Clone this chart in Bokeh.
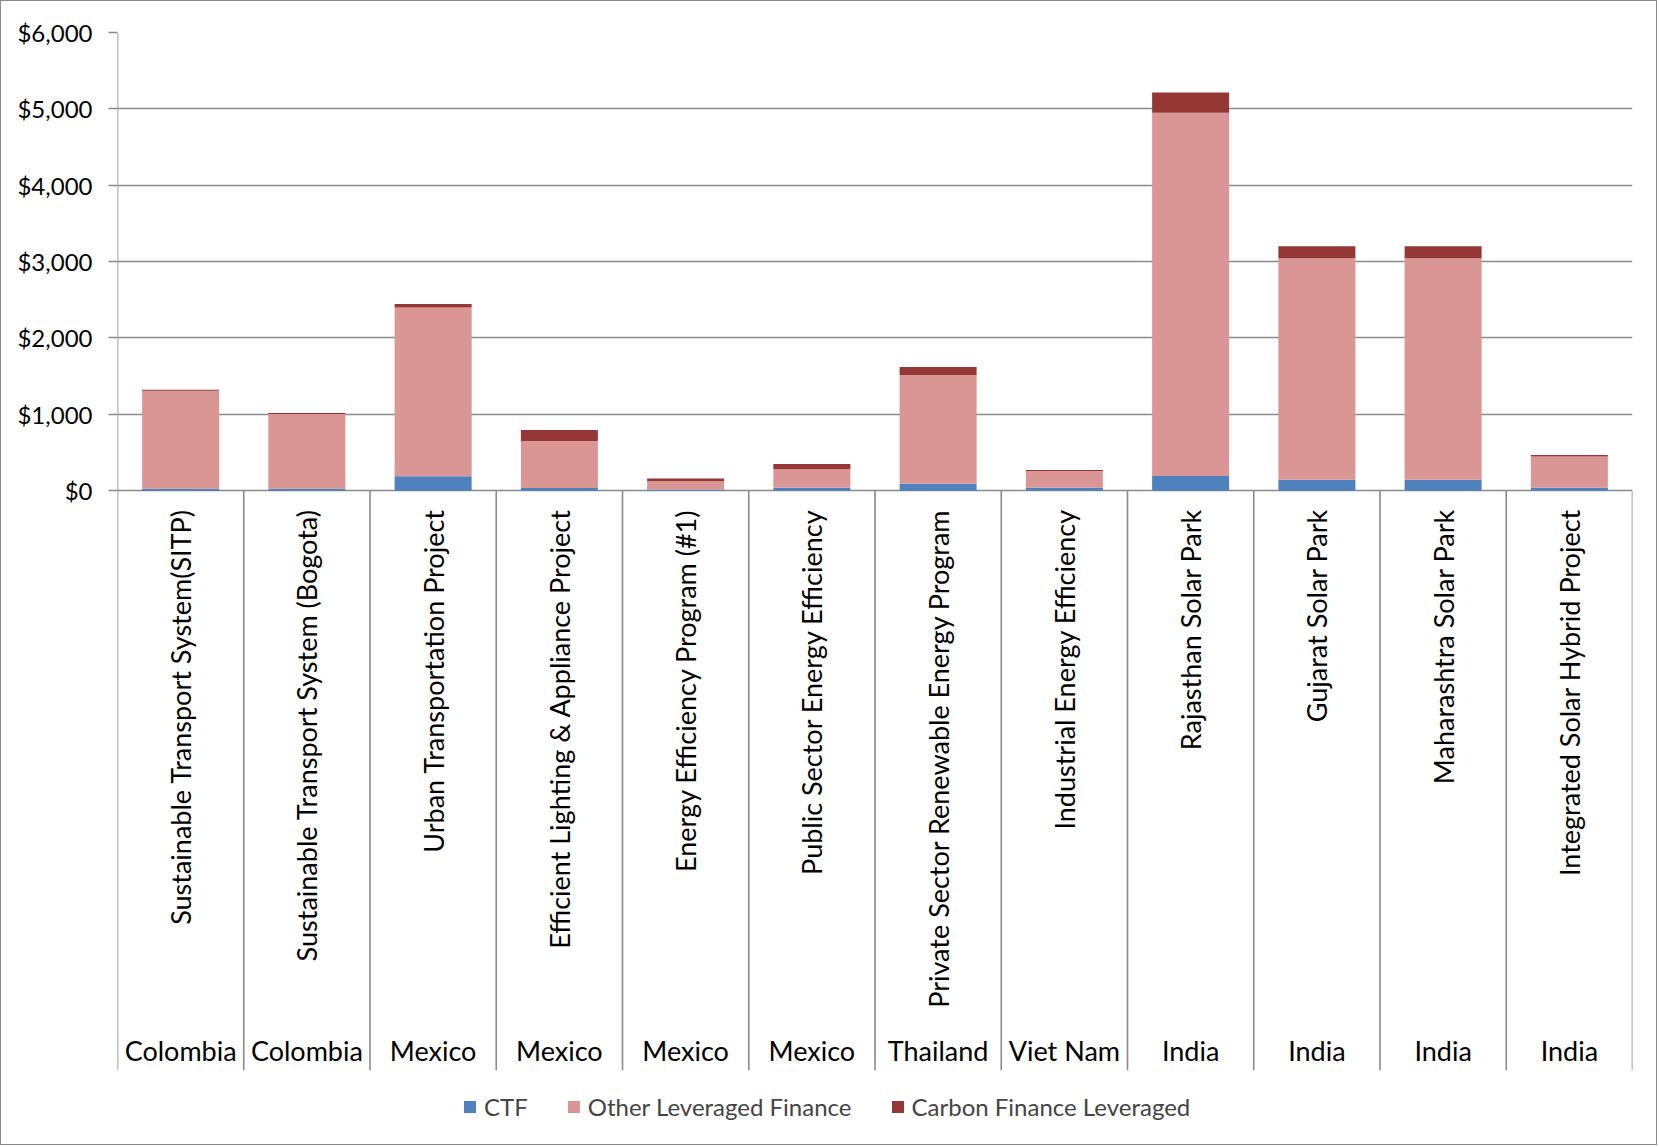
from bokeh.plotting import figure
from bokeh.models import (FactorRange, Range1d, FixedTicker, NumeralTickFormatter,
                          ColumnDataSource, Legend)
from bokeh.core.properties import value
from bokeh.embed import file_html
from bokeh.resources import INLINE

# ---- data ----
projects = ["Sustainable Transport System(SITP)", "Sustainable Transport System (Bogota)",
            "Urban Transportation Project", "Efficient Lighting & Appliance Project",
            "Energy Efficiency Program (#1)", "Public Sector Energy Efficiency",
            "Private Sector Renewable Energy Program", "Industrial Energy Efficiency",
            "Rajasthan Solar Park", "Gujarat Solar Park", "Maharashtra Solar Park",
            "Integrated Solar Hybrid Project"]
countries = ["Colombia", "Colombia", "Mexico", "Mexico", "Mexico", "Mexico",
             "Thailand", "Viet Nam", "India", "India", "India", "India"]
ctf = [25, 25, 190, 35, 15, 39, 92, 39, 192, 144, 144, 39]
other = [1282, 980, 2208, 614, 108, 240, 1423, 219, 4756, 2901, 2901, 408]
carbon = [13, 12, 45, 145, 35, 70, 105, 13, 266, 157, 157, 20]
series = ["CTF", "Other Leveraged Finance", "Carbon Finance Leveraged"]
y_ticks = [0, 1000, 2000, 3000, 4000, 5000, 6000]

colors = ["#4F81BD", "#D99694", "#953735"]
GRAY = "#8a8a8a"
FONT = "Lato"

src = ColumnDataSource(dict(project=projects, country=countries,
                            ctf=ctf, other=other, carbon=carbon))

Y_SEP = -7590      # bottom of category separators
Y_FRAME = -8589    # bottom of drawing frame (legend area)
p = figure(width=1657, height=1145, output_backend="svg", toolbar_location=None,
           x_range=FactorRange(factors=projects, range_padding=0, factor_padding=0),
           y_range=Range1d(Y_FRAME, 6000),
           min_border_left=116, min_border_right=26, min_border_top=31, min_border_bottom=0)
p.styles = {"border": "1px solid #8a8a8a"}
p.outline_line_color = None
p.background_fill_color = "white"
p.border_fill_color = "white"

renderers = p.vbar_stack(["ctf", "other", "carbon"], x="project", width=0.61, source=src,
                         color=colors, line_color=None)

# value axis line + separators below the category axis
bounds = list(range(len(projects) + 1))
tops = [6000] + [0] * len(projects)
p.segment(x0=bounds, x1=bounds, y0=tops, y1=[Y_SEP] * len(bounds),
          line_color=GRAY, line_width=1.6)

# project labels (rotated)
p.text(x="project", y=-243, text="project", source=src, angle=1.5707963,
       text_align="right", text_baseline="middle", text_font=value(FONT),
       text_font_size="27px", text_color="black")
# country labels
p.text(x="project", y=-7331, text="country", source=src,
       text_align="center", text_baseline="alphabetic", text_font=value(FONT),
       text_font_size="27px", text_color="black")

p.xaxis.visible = False
p.xgrid.grid_line_color = None
p.ygrid.ticker = FixedTicker(ticks=y_ticks)
p.ygrid.grid_line_color = GRAY
p.ygrid.grid_line_width = 1.6

ya = p.yaxis[0]
ya.ticker = FixedTicker(ticks=y_ticks)
ya.formatter = NumeralTickFormatter(format="$0,0")
ya.axis_line_color = None
ya.major_tick_line_color = GRAY
ya.major_tick_line_width = 1.6
ya.major_tick_out = 9
ya.major_tick_in = 0
ya.minor_tick_line_color = None
ya.major_label_standoff = 16
ya.major_label_text_font = FONT
ya.major_label_text_font_size = "24px"
ya.major_label_text_color = "black"

legend = Legend(items=[(s, [r]) for s, r in zip(series, renderers)],
                orientation="horizontal", location=(345, 25),
                glyph_width=15, glyph_height=15, label_standoff=7, spacing=38,
                label_text_font=FONT, label_text_font_size="24px",
                label_height=20, border_line_color=None, background_fill_alpha=0,
                padding=0, margin=0)
p.add_layout(legend, "center")

open("out.html", "w").write(file_html(p, INLINE))
